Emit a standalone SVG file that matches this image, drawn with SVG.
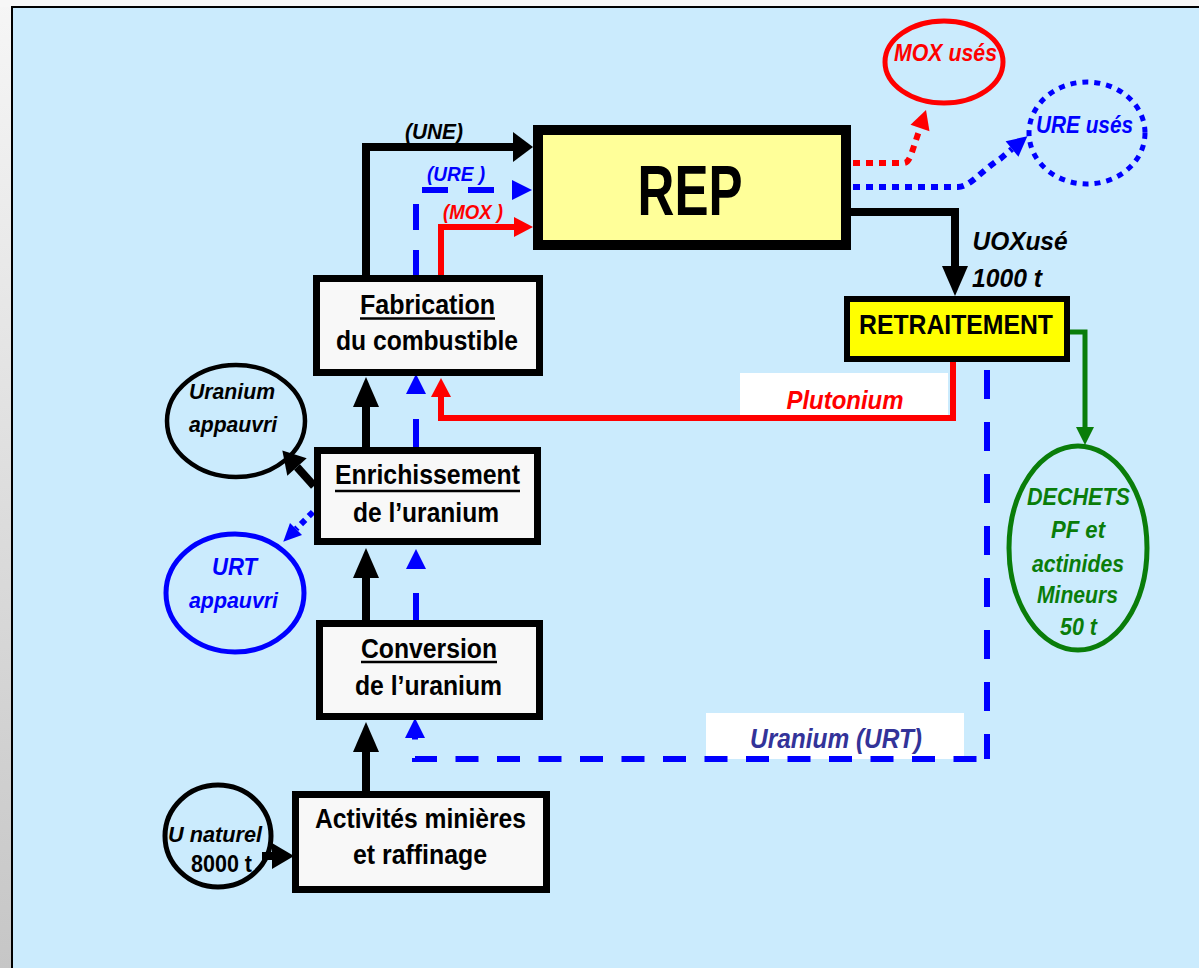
<svg xmlns="http://www.w3.org/2000/svg" width="1199" height="968" viewBox="0 0 1199 968">
<defs>
<linearGradient id="gbg" x1="0" y1="0" x2="0" y2="1">
<stop offset="0" stop-color="#f6f6f6"/>
<stop offset="1" stop-color="#c6c6c6"/>
</linearGradient>
<marker id="mBk" markerUnits="userSpaceOnUse" markerWidth="20" markerHeight="30" refX="0" refY="15" orient="auto" overflow="visible"><path d="M0,0 L20,15 L0,30 z" fill="#000"/></marker>
<marker id="mBkV" markerUnits="userSpaceOnUse" markerWidth="30" markerHeight="26" refX="0" refY="13" orient="auto" overflow="visible"><path d="M0,0 L30,13 L0,26 z" fill="#000"/></marker>
<marker id="mBkS" markerUnits="userSpaceOnUse" markerWidth="22" markerHeight="26" refX="0" refY="13" orient="auto" overflow="visible"><path d="M0,0 L22,13 L0,26 z" fill="#000"/></marker>
<marker id="mBl" markerUnits="userSpaceOnUse" markerWidth="20" markerHeight="20" refX="0" refY="10" orient="auto" overflow="visible"><path d="M0,0 L20,10 L0,20 z" fill="#0000ff"/></marker>
<marker id="mBlS" markerUnits="userSpaceOnUse" markerWidth="18" markerHeight="17" refX="0" refY="8.5" orient="auto" overflow="visible"><path d="M0,0 L18,8.5 L0,17 z" fill="#0000ff"/></marker>
<marker id="mRd" markerUnits="userSpaceOnUse" markerWidth="19" markerHeight="20" refX="0" refY="10" orient="auto" overflow="visible"><path d="M0,0 L19,10 L0,20 z" fill="#ff0000"/></marker>
<marker id="mGn" markerUnits="userSpaceOnUse" markerWidth="18" markerHeight="18" refX="0" refY="9" orient="auto" overflow="visible"><path d="M0,0 L18,9 L0,18 z" fill="#0a7d0a"/></marker>
</defs>
<style>
.box{fill:#f8f8f8;stroke:#000;stroke-width:7}
.bt{font-family:"Liberation Sans",Arial,Helvetica,sans-serif;font-weight:bold;text-anchor:middle;fill:#000}
.it{font-family:"Liberation Sans",Arial,Helvetica,sans-serif;font-weight:bold;font-style:italic;text-anchor:middle}
.ul{stroke:#000;stroke-width:2.5}
.blk{fill:none;stroke:#000;stroke-width:8}
.red{fill:none;stroke:#ff0000;stroke-width:6}
.blu{fill:none;stroke:#0000ff;stroke-width:6}
.grn{fill:none;stroke:#0a7d0a;stroke-width:5}
</style>

<rect x="0" y="0" width="1199" height="968" fill="url(#gbg)"/>
<rect x="0" y="0" width="1199" height="7" fill="#f7f7f7"/>
<rect x="12" y="7" width="1200" height="975" fill="#cbebfd" stroke="#000" stroke-width="2"/>

<g id="connectors">
<rect x="740" y="373" width="208" height="42" fill="#ffffff"/>
<rect x="706" y="713" width="258" height="46" fill="#ffffff"/>
<path class="blk" d="M366,279 V147 H513" marker-end="url(#mBk)"/>
<path class="blu" d="M416,276 V190 H512" stroke-dasharray="26 20" marker-end="url(#mBl)"/>
<path class="red" d="M441,276 V227 H514" marker-end="url(#mRd)"/>
<path class="blk" d="M366,791 V752" marker-end="url(#mBkV)"/>
<path class="blk" d="M366,620 V578" marker-end="url(#mBkV)"/>
<path class="blk" d="M366,447 V407" marker-end="url(#mBkV)"/>
<path class="blu" d="M416,620 V569" stroke-dasharray="27 40" marker-end="url(#mBl)"/>
<path class="blu" d="M416,447 V394" stroke-dasharray="28 40" marker-end="url(#mBl)"/>
<path class="blu" d="M987,362 V759" stroke-dasharray="29 23" stroke-dashoffset="-8"/>
<path class="blu" d="M987,759 H415 V738" stroke-dasharray="23 18.5" stroke-dashoffset="31" marker-end="url(#mBl)"/>
<path class="red" d="M953,362 V418 H441 V397" marker-end="url(#mRd)"/>
<path class="grn" d="M1070,332 H1085 V427" marker-end="url(#mGn)"/>
<path class="blk" d="M851,212 H955 V266" marker-end="url(#mBkV)"/>
<path class="red" stroke-width="7" d="M853,163 H904 Q908,163 911,155 L920,128" stroke-dasharray="7 6" marker-end="url(#mRd)"/>
<path class="blu" stroke-width="7" d="M853,187 H958 C970,187 982,170 1000,159 L1012,149" stroke-dasharray="7 6" marker-end="url(#mBl)"/>
<path class="blk" d="M314,486 L297,467" marker-end="url(#mBkS)"/>
<path class="blu" stroke-width="6" d="M313,512 L296,529" stroke-dasharray="6 5" marker-end="url(#mBlS)"/>
<path class="blk" d="M262,856 L272,856" marker-end="url(#mBkS)"/>
<text class="it" x="434" y="139" font-size="22" textLength="58" lengthAdjust="spacingAndGlyphs" fill="#000">(UNE)</text>
<text class="it" x="456" y="181" font-size="21" textLength="58" lengthAdjust="spacingAndGlyphs" fill="#0000ff">(URE )</text>
<text class="it" x="473" y="219" font-size="20" textLength="60" lengthAdjust="spacingAndGlyphs" fill="#ff0000">(MOX )</text>
<text class="it" x="1020" y="250" font-size="26" textLength="95" lengthAdjust="spacingAndGlyphs" fill="#000">UOXusé</text>
<text class="it" x="1007" y="287" font-size="26" textLength="70" lengthAdjust="spacingAndGlyphs" fill="#000">1000 t</text>
<text class="it" x="845" y="409" font-size="26" textLength="117" lengthAdjust="spacingAndGlyphs" fill="#ff0000">Plutonium</text>
<text class="it" x="836" y="748" font-size="27" textLength="172" lengthAdjust="spacingAndGlyphs" fill="#333399">Uranium (URT)</text>
</g>

<g id="rep">
<rect x="538" y="130" width="308" height="115" fill="#ffff99" stroke="#000" stroke-width="10"/>
<text class="bt" x="690" y="215" font-size="70" textLength="105" lengthAdjust="spacingAndGlyphs">REP</text>
</g>

<g id="retraitement">
<rect x="847" y="299" width="220" height="60" fill="#ffff00" stroke="#000" stroke-width="6"/>
<text class="bt" x="956" y="334" font-size="28" textLength="194" lengthAdjust="spacingAndGlyphs">RETRAITEMENT</text>
</g>

<g id="fabrication">
<rect class="box" x="316.5" y="278.5" width="223" height="94"/>
<text class="bt" x="427.5" y="314" font-size="27" textLength="135" lengthAdjust="spacingAndGlyphs">Fabrication</text>
<line class="ul" x1="360" y1="318.5" x2="495" y2="318.5"/>
<text class="bt" x="427" y="350" font-size="27" textLength="182" lengthAdjust="spacingAndGlyphs">du combustible</text>
</g>

<g id="enrichissement">
<rect class="box" x="317.5" y="450.5" width="220" height="91"/>
<text class="bt" x="427.5" y="484" font-size="27" textLength="185" lengthAdjust="spacingAndGlyphs">Enrichissement</text>
<line class="ul" x1="335" y1="491" x2="520" y2="491"/>
<text class="bt" x="426" y="522" font-size="27" textLength="146" lengthAdjust="spacingAndGlyphs">de l’uranium</text>
</g>

<g id="conversion">
<rect class="box" x="319.5" y="623.5" width="220" height="93"/>
<text class="bt" x="429" y="658" font-size="27" textLength="136" lengthAdjust="spacingAndGlyphs">Conversion</text>
<line class="ul" x1="361" y1="662" x2="497" y2="662"/>
<text class="bt" x="428.5" y="695" font-size="27" textLength="147" lengthAdjust="spacingAndGlyphs">de l’uranium</text>
</g>

<g id="activites">
<rect class="box" x="295.5" y="794.5" width="251" height="95"/>
<text class="bt" x="420.5" y="828" font-size="27" textLength="211" lengthAdjust="spacingAndGlyphs">Activités minières</text>
<text class="bt" x="420" y="864" font-size="27" textLength="134" lengthAdjust="spacingAndGlyphs">et raffinage</text>
</g>

<g id="mox-uses">
<ellipse cx="944" cy="62" rx="59" ry="41" fill="none" stroke="#ff0000" stroke-width="5"/>
<text class="it" x="945.5" y="61" font-size="23" textLength="103" lengthAdjust="spacingAndGlyphs" fill="#ff0000">MOX usés</text>
</g>

<g id="ure-uses">
<ellipse cx="1087" cy="133" rx="58" ry="51" fill="none" stroke="#0000ff" stroke-width="5" stroke-dasharray="6 6"/>
<text class="it" x="1084.5" y="133" font-size="23" textLength="97" lengthAdjust="spacingAndGlyphs" fill="#0000ff">URE usés</text>
</g>

<g id="uranium-appauvri">
<ellipse cx="236" cy="421" rx="69" ry="56" fill="none" stroke="#000" stroke-width="4.5"/>
<text class="it" x="232" y="399" font-size="22" textLength="86" lengthAdjust="spacingAndGlyphs" fill="#000">Uranium</text>
<text class="it" x="233" y="432" font-size="22" textLength="88" lengthAdjust="spacingAndGlyphs" fill="#000">appauvri</text>
</g>

<g id="urt-appauvri">
<ellipse cx="235" cy="593" rx="69" ry="59" fill="none" stroke="#0000ff" stroke-width="5"/>
<text class="it" x="234.5" y="575" font-size="23" textLength="45" lengthAdjust="spacingAndGlyphs" fill="#0000ff">URT</text>
<text class="it" x="233.5" y="608" font-size="22" textLength="89" lengthAdjust="spacingAndGlyphs" fill="#0000ff">appauvri</text>
</g>

<g id="u-naturel">
<ellipse cx="218" cy="836" rx="53" ry="51" fill="none" stroke="#000" stroke-width="5"/>
<text class="it" x="215" y="842" font-size="22" textLength="94" lengthAdjust="spacingAndGlyphs" fill="#000">U naturel</text>
<text class="bt" x="221.5" y="872" font-size="23" textLength="61" lengthAdjust="spacingAndGlyphs">8000 t</text>
</g>

<g id="dechets">
<ellipse cx="1078" cy="548" rx="69" ry="102" fill="none" stroke="#0a7d0a" stroke-width="5"/>
<text class="it" x="1078.5" y="505" font-size="23" textLength="103" lengthAdjust="spacingAndGlyphs" fill="#0a7d0a">DECHETS</text>
<text class="it" x="1078" y="538" font-size="23" textLength="54" lengthAdjust="spacingAndGlyphs" fill="#0a7d0a">PF et</text>
<text class="it" x="1078" y="572" font-size="23" textLength="92" lengthAdjust="spacingAndGlyphs" fill="#0a7d0a">actinides</text>
<text class="it" x="1077.5" y="603" font-size="23" textLength="81" lengthAdjust="spacingAndGlyphs" fill="#0a7d0a">Mineurs</text>
<text class="it" x="1078.5" y="635" font-size="23" textLength="37" lengthAdjust="spacingAndGlyphs" fill="#0a7d0a">50 t</text>
</g>
</svg>
